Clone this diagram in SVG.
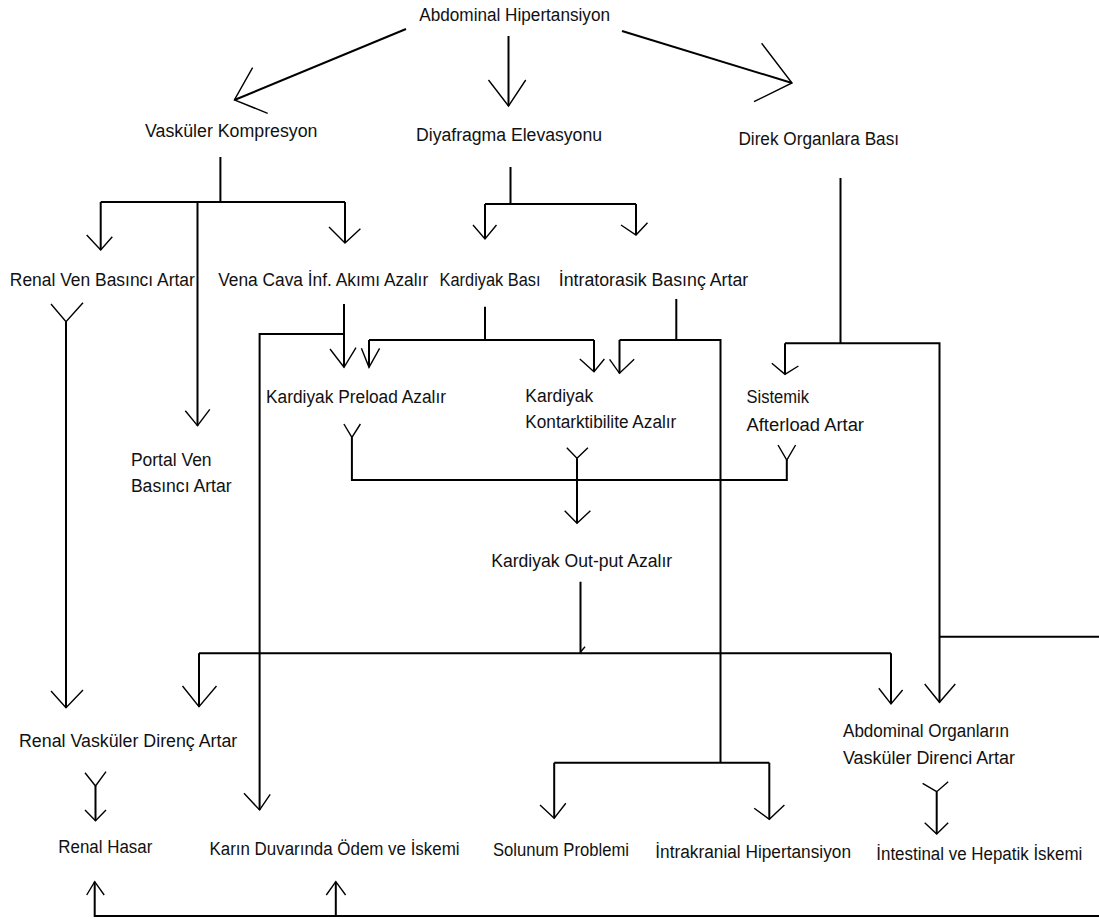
<svg xmlns="http://www.w3.org/2000/svg" width="1099" height="919" viewBox="0 0 1099 919">
<style>
  text { font-family: "Liberation Sans", Arial, sans-serif; font-size: 18px; fill: #111; }
  .ln { fill: none; stroke: #000; stroke-width: 2; }
  .hd { fill: none; stroke: #000; stroke-width: 1.4; stroke-linejoin: miter; }
</style>
<rect width="1099" height="919" fill="#fff"/>
<g id="connectors">
  <!-- Abdominal Hipertansiyon arrows -->
  <path class="ln" d="M406,29 L234.4,100"/>
  <path class="hd" d="M252.6,67.7 L234.4,100 L267.7,113.3"/>
  <path class="ln" d="M508.5,36 V106"/>
  <path class="hd" d="M488.5,80 L508.5,106 L525.7,80"/>
  <path class="ln" d="M622,31 L792,83"/>
  <path class="hd" d="M761.6,43.3 L792,83 L754,101.7"/>
  <!-- Vaskuler Kompresyon branch -->
  <path class="ln" d="M220.4,157 V202 M100.7,202 H345 M100.7,202 V250 M345,202 V243 M197.5,202 V425.7"/>
  <path class="hd" d="M86.7,235 L100.7,250 L112.3,236.7"/>
  <path class="hd" d="M329,227 L345,243 L360.4,228.7"/>
  <path class="hd" d="M185.3,410.7 L197.5,425.7 L209.8,409.3"/>
  <!-- Diyafragma branch -->
  <path class="ln" d="M510.5,167 V204 M485,204 H636 M485,204 V239 M636,204 V235"/>
  <path class="hd" d="M473,225 L485,239 L496.5,225"/>
  <path class="hd" d="M621,225 L636,235 L647.5,222.7"/>
  <!-- Renal Ven -> Renal Vaskuler -->
  <path class="hd" d="M51,304 L66,321.7 L83,302.7"/>
  <path class="ln" d="M66,321.7 V707.7"/>
  <path class="hd" d="M51,691 L66,707.7 L83,690"/>
  <!-- Vena Cava -->
  <path class="ln" d="M344,304 V367.3 M344,334 H259.6 V810"/>
  <path class="hd" d="M330,349 L344,367.3 L356,347.7"/>
  <path class="hd" d="M244,793.3 L259.6,810 L270.2,794.3"/>
  <!-- Kardiyak Basi -->
  <path class="ln" d="M485,306.7 V340 M369,340 H594 M369,340 V367.3 M594,340 V371.7"/>
  <path class="hd" d="M361.4,348.3 L369,367.3 L379.6,348.3"/>
  <path class="hd" d="M579.8,359 L594,371.7 L604.4,359"/>
  <!-- Intratorasik -->
  <path class="ln" d="M676.3,299 V340 M619.5,340 H720.5 V762.7 M619.5,340 V373.3"/>
  <path class="hd" d="M609.6,359.3 L619.5,373.3 L634.2,359.3"/>
  <path class="ln" d="M554.2,762.7 H769.3 M554.2,762.7 V818.3 M769.3,762.7 V819.3"/>
  <path class="hd" d="M540,805 L554.2,818.3 L565.8,803.3"/>
  <path class="hd" d="M754.2,808.3 L769.3,819.3 L784.4,805"/>
  <!-- Direk Organlara -->
  <path class="ln" d="M840.5,178 V343.3 M785,343.3 H939.5 V702.3 M785,343.3 V374.3 M939.5,636.7 H1099"/>
  <path class="hd" d="M771.8,363.3 L785,374.3 L798.4,366"/>
  <path class="hd" d="M924.7,684 L939.5,702.3 L955.3,684"/>
  <!-- to Kardiyak Out-put -->
  <path class="hd" d="M343.9,424 L351.9,437.3 L360.4,424"/>
  <path class="ln" d="M351.9,437.3 V480 H786.8 V460"/>
  <path class="hd" d="M778,445 L786.8,460 L795.6,445"/>
  <path class="hd" d="M566.8,447.7 L577,458.3 L587.9,447.7"/>
  <path class="ln" d="M577,458.3 V523.3"/>
  <path class="hd" d="M564.7,510.7 L577,523.3 L590.4,510.7"/>
  <!-- Kardiyak Out-put -->
  <path class="ln" d="M580.5,581.7 V653.3 M199,653.3 H891 M199,653.3 V706.7 M891,653.3 V704"/>
  <path class="hd" d="M580.5,652 L585,646.7"/>
  <path class="hd" d="M182.5,686 L199,706.7 L216.5,686"/>
  <path class="hd" d="M878.8,688.3 L891,704 L902.6,690"/>
  <!-- Abdominal Organlarin -> Intestinal -->
  <path class="hd" d="M922.6,783.3 L936.7,791.7 L948.2,781.7"/>
  <path class="ln" d="M936.7,791.7 V834"/>
  <path class="hd" d="M924.7,822.7 L936.7,834 L948.2,822.7"/>
  <!-- Renal Vaskuler -> Renal Hasar -->
  <path class="hd" d="M85,772.7 L95.5,786 L106,771.7"/>
  <path class="ln" d="M95.5,786 V820.7"/>
  <path class="hd" d="M85,810 L95.5,820.7 L106,810"/>
  <!-- Bottom feedback -->
  <path class="ln" d="M1099,916 H94.7 V881.7 M335.8,916 V881.7"/>
  <path class="hd" d="M86.7,895 L94.7,881.7 L104.2,895"/>
  <path class="hd" d="M326.3,895 L335.8,881.7 L345.6,895"/>
</g>
<g id="n-abdominal-hipertansiyon"><text x="419.3" y="20.7" textLength="190.7" lengthAdjust="spacingAndGlyphs">Abdominal Hipertansiyon</text></g>
<g id="n-vaskuler-kompresyon"><text x="145" y="137" textLength="172.5" lengthAdjust="spacingAndGlyphs">Vasküler Kompresyon</text></g>
<g id="n-diyafragma"><text x="416" y="140.7" textLength="186" lengthAdjust="spacingAndGlyphs">Diyafragma Elevasyonu</text></g>
<g id="n-direk"><text x="738.4" y="145" textLength="160.7" lengthAdjust="spacingAndGlyphs">Direk Organlara Bası</text></g>
<g id="n-renal-ven"><text x="9.8" y="286" textLength="185" lengthAdjust="spacingAndGlyphs">Renal Ven Basıncı Artar</text></g>
<g id="n-vena-cava"><text x="218.2" y="286" textLength="210" lengthAdjust="spacingAndGlyphs">Vena Cava İnf. Akımı Azalır</text></g>
<g id="n-kardiyak-basi"><text x="439.6" y="286" textLength="101" lengthAdjust="spacingAndGlyphs">Kardiyak Bası</text></g>
<g id="n-intratorasik"><text x="558.8" y="286" textLength="189.4" lengthAdjust="spacingAndGlyphs">İntratorasik Basınç Artar</text></g>
<g id="n-portal-ven"><text x="130.9" y="465.7" textLength="80.7" lengthAdjust="spacingAndGlyphs">Portal Ven</text><text x="130.9" y="492.3" textLength="100.7" lengthAdjust="spacingAndGlyphs">Basıncı Artar</text></g>
<g id="n-preload"><text x="266" y="403" textLength="180" lengthAdjust="spacingAndGlyphs">Kardiyak Preload Azalır</text></g>
<g id="n-kontarktibilite"><text x="525.3" y="401.7" textLength="68" lengthAdjust="spacingAndGlyphs">Kardiyak</text><text x="525.3" y="428.3" textLength="151" lengthAdjust="spacingAndGlyphs">Kontarktibilite Azalır</text></g>
<g id="n-sistemik"><text x="746.5" y="403" textLength="62.5" lengthAdjust="spacingAndGlyphs">Sistemik</text><text x="746.5" y="430.7" textLength="117.5" lengthAdjust="spacingAndGlyphs">Afterload Artar</text></g>
<g id="n-output"><text x="491.2" y="566.7" textLength="181" lengthAdjust="spacingAndGlyphs">Kardiyak Out-put Azalır</text></g>
<g id="n-renal-vaskuler"><text x="19" y="747.3" textLength="218.3" lengthAdjust="spacingAndGlyphs">Renal Vasküler Direnç Artar</text></g>
<g id="n-abdominal-organlar"><text x="843" y="736.7" textLength="166" lengthAdjust="spacingAndGlyphs">Abdominal Organların</text><text x="843" y="764.3" textLength="172" lengthAdjust="spacingAndGlyphs">Vasküler Direnci Artar</text></g>
<g id="n-renal-hasar"><text x="58.3" y="852.7" textLength="94" lengthAdjust="spacingAndGlyphs">Renal Hasar</text></g>
<g id="n-karin-duvari"><text x="209.5" y="855" textLength="250" lengthAdjust="spacingAndGlyphs">Karın Duvarında Ödem ve İskemi</text></g>
<g id="n-solunum"><text x="493" y="856" textLength="136" lengthAdjust="spacingAndGlyphs">Solunum Problemi</text></g>
<g id="n-intrakranial"><text x="655.3" y="858" textLength="195.7" lengthAdjust="spacingAndGlyphs">İntrakranial Hipertansiyon</text></g>
<g id="n-intestinal"><text x="876.3" y="860" textLength="206" lengthAdjust="spacingAndGlyphs">İntestinal ve Hepatik İskemi</text></g>
</svg>
